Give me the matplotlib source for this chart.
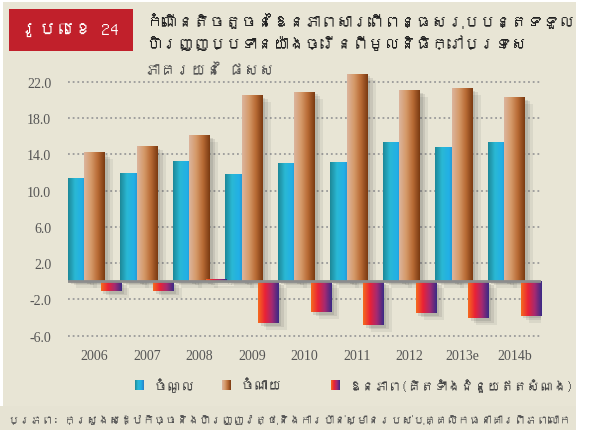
import numpy as np
import matplotlib
matplotlib.use("Agg")
from matplotlib import pyplot as plt
from matplotlib import font_manager, ft2font
from matplotlib.colors import LinearSegmentedColormap
from matplotlib.patches import Rectangle
import matplotlib.patheffects as pe

years = ['2006', '2007', '2008', '2009', '2010', '2011', '2012', '2013e', '2014b']
revenue = [11.4, 11.9, 13.3, 11.8, 13.0, 13.2, 15.4, 14.8, 15.4]
expenditure = [14.2, 14.9, 16.1, 20.5, 20.9, 22.9, 21.1, 21.3, 20.3]
deficit = [-1.1, -1.1, 0.2, -4.6, -3.4, -4.8, -3.5, -4.1, -3.8]
yticks = [22, 18, 14, 10, 6, 2, -2, -6]

fig_label = 'រូបលេខ 24'
# title broken at a word boundary so both lines fit next to the red box
title1 = 'កំណើនតិចតួចនៃឱនភាពសារពើពន្ធសរុបបន្តទទួល'
title2 = 'ហិរញ្ញប្បទានយ៉ាងច្រើនពីមូលនិធិក្រៅប្រទេស'
unit = 'ភាគរយនៃ ផសស'
names = ['ចំណូល', 'ចំណាយ', 'ឱនភាព(គិតទាំងជំនួយឥតសំណង)']
source = 'ប្រភព: ក្រសួងសេដ្ឋកិច្ចនិងហិរញ្ញវត្ថុនិងការប៉ាន់ស្មានរបស់បុគ្គលិកធនាគារពិភពលោក'


# look for a font that has khmer glyphs
def find_khmer():
    for f in font_manager.fontManager.ttflist:
        try:
            if ft2font.FT2Font(f.fname).get_char_index(0x1780):
                return f.name
        except Exception:
            pass
    return None


kh = find_khmer()
kfam = [kh, 'DejaVu Sans'] if kh else ['DejaVu Sans']
serif = ['Liberation Serif', 'DejaVu Serif']

W, H = 589, 431
fig = plt.figure(figsize=(W / 100, H / 100), dpi=100, facecolor='white')
bg = '#e8e5d5'


def fx(x):
    return x / W


def fy(y):
    return 1 - y / H


# background panel and source strip
fig.patches.append(Rectangle((fx(3), fy(407)), fx(573), 404 / H, transform=fig.transFigure,
                             facecolor=bg, edgecolor='none', zorder=-3))
fig.patches.append(Rectangle((0, 0), fx(576), 24 / H, transform=fig.transFigure,
                             facecolor='#e6e3d3', edgecolor='none', zorder=-3))
# red label box
fig.patches.append(Rectangle((fx(9), fy(52)), fx(124), 42 / H, transform=fig.transFigure,
                             facecolor='#c1202b', edgecolor='none', zorder=-2))

texts = []  # (text, max width in px)
t = fig.text(fx(70), fy(31), fig_label, color='white', fontsize=13, family=kfam,
             ha='center', va='center')
texts.append((t, 105))
t1 = fig.text(fx(146), fy(20), title1, color='#222222', fontsize=12, weight='bold',
              family=kfam, ha='left', va='center')
t2 = fig.text(fx(146), fy(42), title2, color='#222222', fontsize=12, weight='bold',
              family=kfam, ha='left', va='center')
t = fig.text(fx(145), fy(70), unit, color='#555555', fontsize=11, family=kfam,
             ha='left', va='center')
texts.append((t, 160))
t = fig.text(fx(8), fy(420), source, color='#555555', fontsize=9.5, family=kfam,
             ha='left', va='center')
texts.append((t, 565))

ax = fig.add_axes([fx(68), 1 - 341.2 / H, fx(473), 272.1 / H])
ax.set_facecolor('none')

blue = LinearSegmentedColormap.from_list('b', ['#1d8898', '#2ab8d4', '#22b0e6', '#2a7fc6'])
brown = LinearSegmentedColormap.from_list('br', ['#dcb49c', '#d59a6a', '#b86a34', '#7a3a12'])
purple = LinearSegmentedColormap.from_list('p', ['#f56a1e', '#ea2236', '#a42a72', '#3a2a86'])
grad = np.linspace(0, 1, 64).reshape(1, -1)

x = np.arange(len(years))
wid = 0.39
shadows = [pe.SimplePatchShadow(offset=(2, -2), shadow_rgbFace='#333333', alpha=0.12),
           pe.SimplePatchShadow(offset=(4, -3), shadow_rgbFace='#333333', alpha=0.10),
           pe.SimplePatchShadow(offset=(6, -5), shadow_rgbFace='#333333', alpha=0.08),
           pe.Normal()]

for vals, off, cmap in [(revenue, -0.31, blue), (expenditure, 0.0, brown), (deficit, 0.31, purple)]:
    bars = ax.bar(x + off, vals, width=wid, color=cmap(0.5), zorder=2)
    for b in bars:
        b.set_path_effects(shadows)
        x0, y0 = b.get_x(), b.get_y()
        im = ax.imshow(grad, cmap=cmap, aspect='auto', zorder=3,
                       extent=[x0, x0 + b.get_width(), y0, y0 + b.get_height()])
        im.set_clip_path(b)

ax.axhline(0, color='#8c8c8c', lw=2, zorder=5)
ax.set_xlim(-0.505, len(years) - 0.495)
ax.set_ylim(-6.5, 23.5)
ax.set_yticks(yticks)
ax.set_yticklabels(['%.1f' % v for v in yticks])
ax.set_xticks(x)
ax.set_xticklabels(years)
ax.yaxis.grid(True, linestyle=(0, (1, 1.6)), color='#9a9a9a', lw=1.3)
ax.set_axisbelow(True)
for s in ax.spines.values():
    s.set_visible(False)
ax.tick_params(length=0, labelsize=10, labelcolor='#555555')
ax.tick_params(axis='y', pad=12)
ax.tick_params(axis='x', pad=6)
for t in ax.get_xticklabels() + ax.get_yticklabels():
    t.set_family(serif)

# legend
for lx, cmap, name, wpx in [(135, blue, names[0], 70), (222, brown, names[1], 90),
                            (331, purple, names[2], 225)]:
    la = fig.add_axes([fx(lx), fy(391), fx(9), 10 / H])
    la.imshow(grad, cmap=cmap, aspect='auto')
    la.axis('off')
    t = fig.text(fx(lx + 18), fy(386), name, color='#444444', fontsize=10, family=kfam,
                 ha='left', va='center')
    texts.append((t, wpx))

# the khmer font is drawn without shaping and runs wide: shrink texts that overflow
fig.canvas.draw()
r = fig.canvas.get_renderer()
for t, wpx in texts:
    bw = t.get_window_extent(r).width
    if bw > wpx:
        t.set_fontsize(t.get_fontsize() * wpx / bw)
tw = max(t1.get_window_extent(r).width, t2.get_window_extent(r).width)
if tw > 428:
    ts = t1.get_fontsize() * 428 / tw
    t1.set_fontsize(ts)
    t2.set_fontsize(ts)

fig.savefig('out.png', dpi=100, facecolor=fig.get_facecolor())
